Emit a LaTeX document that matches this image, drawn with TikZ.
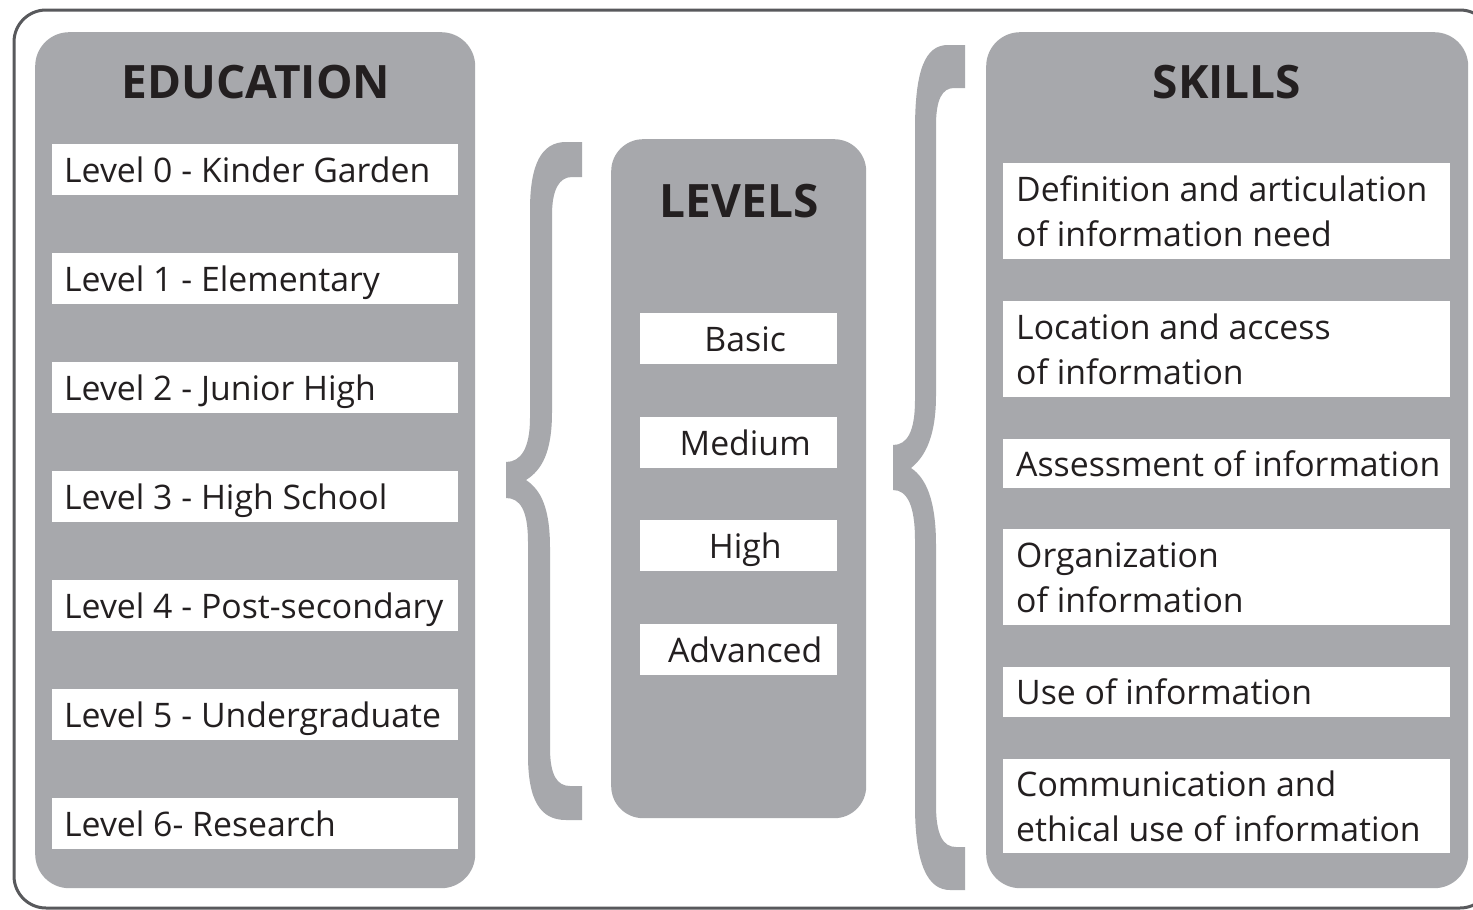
\documentclass[tikz,border=0pt]{standalone}
\usepackage{fontspec}
\setmainfont{Open Sans}
\usetikzlibrary{calc}
\definecolor{panelgray}{RGB}{167,168,172}
\definecolor{framegray}{RGB}{88,89,92}
\definecolor{inkc}{RGB}{35,31,32}
\begin{document}
\begin{tikzpicture}[x=1pt,y=-1pt,
  panel/.style={fill=panelgray, draw=none, rounded corners=34pt, inner sep=0pt, anchor=north west},
  wbox/.style={fill=white, draw=none, inner sep=0pt, anchor=north west},
  btext/.style={text=inkc, inner sep=0pt, anchor=base west, font=\fontsize{33.8pt}{45pt}\selectfont},
  ctext/.style={text=inkc, inner sep=0pt, anchor=base, font=\fontsize{33.8pt}{45pt}\selectfont},
  ttext/.style={text=inkc, inner sep=0pt, anchor=base, font=\fontsize{46pt}{50pt}\selectfont\bfseries},
  bracefill/.style={fill=panelgray, draw=none}
]
\useasboundingbox (0,0) rectangle (1473,910);
\clip (0,0) rectangle (1473,910);
\fill[white] (0,0) rectangle (1473,910);

% outer frame
\draw[framegray, line width=3pt, rounded corners=32pt] (14,10) rectangle (1492,908);

% panels
\node[panel, minimum width=440pt, minimum height=856pt] (edu) at (35,32) {};
\node[panel, minimum width=255pt, minimum height=679pt, rounded corners=32pt] (lev) at (611,139) {};
\node[panel, minimum width=482pt, minimum height=856pt] (ski) at (986,32) {};

% titles
\node[ttext] (edut) at (256,98) {EDUCATION};
\node[ttext] (levt) at (739,217) {LEVELS};
\node[ttext] (skit) at (1227,98) {SKILLS};

% education boxes
\foreach \i/\t in {0/{Level 0 - Kinder Garden},1/{Level 1 - Elementary},2/{Level 2 - Junior High},3/{Level 3 - High School},4/{Level 4 - Post-secondary},5/{Level 5 - Undergraduate},6/{Level 6- Research}}{
  \node[wbox, minimum width=406pt, minimum height=51pt] (e\i) at (52,{144+109*\i}) {};
  \node[btext] (et\i) at ([xshift=12pt,yshift=-12.5pt]e\i.west) {\t};
}

% levels boxes
\foreach \i/\t/\y in {0/Basic/313,1/Medium/417,2/High/520,3/Advanced/624}{
  \node[wbox, minimum width=197pt, minimum height=51pt] (l\i) at (640,\y) {};
  \node[ctext] (lt\i) at ([xshift=6.5pt,yshift=-12.5pt]l\i.center) {\t};
}

% skills boxes
\node[wbox, minimum width=447pt, minimum height=96pt] (s1) at (1003,163) {};
\node[btext] (s1a) at ([xshift=13pt,yshift=9.5pt]s1.west) {Definition and articulation};
\node[btext] (s1b) at ([xshift=13pt,yshift=-35.5pt]s1.west) {of information need};

\node[wbox, minimum width=447pt, minimum height=96pt] (s2) at (1003,301) {};
\node[btext] (s2a) at ([xshift=13pt,yshift=9.5pt]s2.west) {Location and access};
\node[btext] (s2b) at ([xshift=13pt,yshift=-35.5pt]s2.west) {of information};

\node[wbox, minimum width=447pt, minimum height=49pt] (s3) at (1003,439) {};
\node[btext] (s3a) at ([xshift=13pt,yshift=-12.5pt]s3.west) {Assessment of information};

\node[wbox, minimum width=447pt, minimum height=96pt] (s4) at (1003,529) {};
\node[btext] (s4a) at ([xshift=13pt,yshift=9.5pt]s4.west) {Organization};
\node[btext] (s4b) at ([xshift=13pt,yshift=-35.5pt]s4.west) {of information};

\node[wbox, minimum width=447pt, minimum height=50pt] (s5) at (1003,667) {};
\node[btext] (s5a) at ([xshift=13pt,yshift=-12.5pt]s5.west) {Use of information};

\node[wbox, minimum width=447pt, minimum height=94pt] (s6) at (1003,759) {};
\node[btext] (s6a) at ([xshift=13pt,yshift=9.5pt]s6.west) {Communication and};
\node[btext] (s6b) at ([xshift=13pt,yshift=-35.5pt]s6.west) {ethical use of information};

% left brace
\fill[bracefill] (582,142) -- (566,142)
  .. controls (541,142) and (530,165) .. (530,210)
  -- (530,418) .. controls (530,448) and (521,462) .. (506,462)
  -- (506,498) .. controls (520,498) and (528,510) .. (528,542)
  -- (528,755) .. controls (528,800) and (540,820) .. (566,820)
  -- (582,820) -- (582,786) -- (570,786)
  .. controls (557,786) and (550,775) .. (550,748)
  -- (550,548) .. controls (550,508) and (541,490) .. (526,480)
  .. controls (542,470) and (552,452) .. (552,412)
  -- (552,215) .. controls (552,190) and (559,177) .. (572,177)
  -- (582,177) -- cycle;

% right brace
\fill[bracefill] (965,45) -- (948,45)
  .. controls (925,45) and (915,70) .. (915,130)
  -- (915,400) .. controls (915,432) and (907,445) .. (893,445)
  -- (893,490) .. controls (907,490) and (915,505) .. (915,540)
  -- (915,805) .. controls (915,865) and (928,890) .. (950,890)
  -- (965,890) -- (965,847) -- (956,847)
  .. controls (943,847) and (936,835) .. (936,805)
  -- (936,545) .. controls (936,500) and (926,478) .. (911,468)
  .. controls (926,456) and (936,435) .. (936,395)
  -- (936,125) .. controls (936,100) and (942,88) .. (954,88)
  -- (965,88) -- cycle;
\end{tikzpicture}
\end{document}
